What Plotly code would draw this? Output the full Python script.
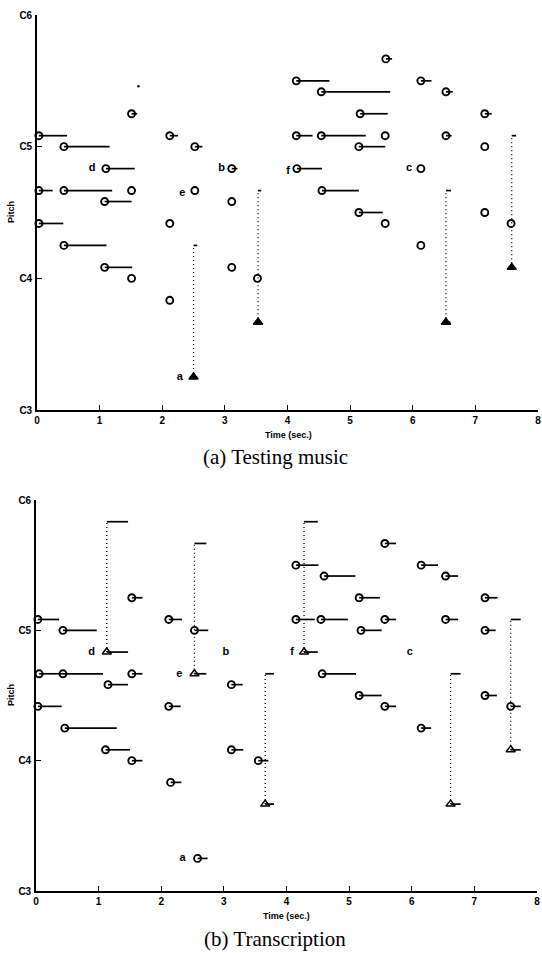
import plotly.graph_objects as go

W, H = 542, 953

# ---------------- (a) Testing music ----------------
a_start = [0.03, 0.43, 1.10, 0.03, 0.43, 1.51, 1.08, 1.51, 0.03, 0.43, 1.08, 1.51,
           2.12, 2.12, 2.12, 2.52, 2.52, 3.11, 3.11, 3.11, 3.52,
           4.14, 4.54, 5.16, 4.14, 4.54, 5.14, 4.15, 4.55, 5.14,
           5.57, 6.13, 6.53, 5.56, 6.53, 7.15, 7.15, 6.13, 7.57, 7.15, 5.56, 6.13]
a_end = [0.48, 1.16, 1.56, 0.25, 1.20, 1.51, 1.51, 1.60, 0.42, 1.11, 1.52, 1.51,
         2.25, 2.12, 2.12, 2.64, 2.52, 3.20, 3.11, 3.11, 3.52,
         4.67, 5.64, 5.60, 4.40, 5.25, 5.56, 4.55, 5.14, 5.52,
         5.67, 6.30, 6.64, 5.56, 6.62, 7.26, 7.15, 6.13, 7.57, 7.15, 5.56, 6.13]
a_pitch = [73, 72, 70, 68, 68, 68, 67, 75, 65, 63, 61, 60,
           73, 65, 58, 72, 68, 70, 67, 61, 60,
           78, 77, 75, 73, 73, 72, 70, 68, 66,
           80, 78, 77, 73, 73, 75, 72, 70, 65, 66, 65, 63]
# missed notes (triangles) and their octave-shifted detections
a_tri_x = [2.50, 3.53, 6.53, 7.58]
a_tri_end = [2.50, 3.53, 6.60, 7.58]
a_tri_pitch = [51, 56, 56, 61]
a_err_pitch = [63, 68, 68, 73]
a_err_end = [2.56, 3.58, 6.61, 7.65]
a_dot_x = [1.62]
a_dot_pitch = [77.5]
a_lab = ["a", "b", "c", "d", "e", "f"]
a_lab_x = [2.28, 2.95, 5.94, 0.88, 2.32, 4.01]
a_lab_pitch = [51, 70, 70, 70, 67.8, 69.8]

# ---------------- (b) Transcription ----------------
b_start = [0.03, 0.43, 1.53, 2.12, 2.53, 0.05, 0.43, 1.53, 1.15, 0.03, 0.46, 1.11, 1.53,
           2.12, 2.15, 2.58, 3.12, 3.12, 3.55,
           4.15, 4.60, 5.16, 4.15, 4.55, 5.19, 4.57, 5.16,
           5.57, 6.15, 6.54, 7.17, 5.57, 6.54, 7.17, 5.57, 6.15, 7.17, 7.58]
b_end = [0.37, 0.97, 1.70, 2.33, 2.75, 0.43, 1.07, 1.70, 1.47, 0.41, 1.29, 1.50, 1.70,
         2.31, 2.32, 2.74, 3.30, 3.31, 3.71,
         4.51, 5.10, 5.49, 4.45, 4.98, 5.52, 5.11, 5.52,
         5.75, 6.42, 6.74, 7.37, 5.75, 6.74, 7.34, 5.75, 6.31, 7.36, 7.74]
b_pitch = [73, 72, 75, 73, 72, 68, 68, 68, 67, 65, 63, 61, 60,
           65, 58, 51, 67, 61, 60,
           78, 77, 75, 73, 73, 72, 68, 66,
           80, 78, 77, 75, 73, 73, 72, 65, 63, 66, 65]
b_tri_x = [1.13, 2.53, 3.66, 4.28, 6.62, 7.58]
b_tri_end = [1.47, 2.72, 3.80, 4.50, 6.78, 7.74]
b_tri_pitch = [70, 68, 56, 70, 56, 61]
b_err_pitch = [82, 80, 68, 82, 68, 73]
b_lab = ["a", "b", "c", "d", "e", "f"]
b_lab_x = [2.34, 3.03, 5.97, 0.89, 2.29, 4.09]
b_lab_pitch = [51, 70, 70, 70, 68, 70]

pitch_ticks = [48, 60, 72, 84]
pitch_text = ["C3", "C4", "C5", "C6"]
time_ticks = [0, 1, 2, 3, 4, 5, 6, 7, 8]

fig = go.Figure()


def segs(xs0, xs1, ys0, ys1):
    X, Y = [], []
    for a, b, c, d in zip(xs0, xs1, ys0, ys1):
        X += [a, b, None]
        Y += [c, d, None]
    return X, Y


def add_panel(xa, ya, st, en, pi, tx, te, tp, ep, ee, filled_tri, labs, lx, ly):
    X, Y = segs(st, en, pi, pi)
    fig.add_trace(go.Scatter(x=X, y=Y, mode="lines", xaxis=xa, yaxis=ya,
                             line=dict(color="black", width=1.7), cliponaxis=False,
                             showlegend=False, hoverinfo="skip"))
    # triangles' own note lines
    X, Y = segs(tx, te, tp, tp)
    fig.add_trace(go.Scatter(x=X, y=Y, mode="lines", xaxis=xa, yaxis=ya,
                             line=dict(color="black", width=1.7), cliponaxis=False,
                             showlegend=False, hoverinfo="skip"))
    # octave-error detections on top of dotted lines
    X, Y = segs(tx, ee, ep, ep)
    fig.add_trace(go.Scatter(x=X, y=Y, mode="lines", xaxis=xa, yaxis=ya,
                             line=dict(color="black", width=1.7), cliponaxis=False,
                             showlegend=False, hoverinfo="skip"))
    # dotted connectors
    X, Y = segs(tx, tx, tp, ep)
    fig.add_trace(go.Scatter(x=X, y=Y, mode="lines", xaxis=xa, yaxis=ya,
                             line=dict(color="black", width=1.3, dash="1px,3px"), cliponaxis=False,
                             showlegend=False, hoverinfo="skip"))
    fig.add_trace(go.Scatter(x=st, y=pi, mode="markers", xaxis=xa, yaxis=ya,
                             marker=dict(symbol="circle-open", size=7, color="black",
                                         line=dict(width=1.9, color="black")),
                             cliponaxis=False, showlegend=False))
    fig.add_trace(go.Scatter(x=tx, y=tp, mode="markers", xaxis=xa, yaxis=ya,
                             marker=dict(symbol="triangle-up" if filled_tri else "triangle-up-open",
                                         size=8, color="black",
                                         line=dict(width=1.5, color="black")),
                             cliponaxis=False, showlegend=False))
    fig.add_trace(go.Scatter(x=lx, y=ly, mode="text", text=labs, xaxis=xa, yaxis=ya,
                             textfont=dict(family="Liberation Sans", size=11, color="black",
                                           weight="bold"),
                             cliponaxis=False, showlegend=False, hoverinfo="skip"))


add_panel("x", "y", a_start, a_end, a_pitch, a_tri_x, a_tri_end, a_tri_pitch,
          a_err_pitch, a_err_end, True, a_lab, a_lab_x, a_lab_pitch)
fig.add_trace(go.Scatter(x=a_dot_x, y=a_dot_pitch, mode="markers", xaxis="x", yaxis="y",
                         marker=dict(size=2.5, color="black"), showlegend=False))
add_panel("x2", "y2", b_start, b_end, b_pitch, b_tri_x, b_tri_end, b_tri_pitch,
          b_err_pitch, b_tri_end, False, b_lab, b_lab_x, b_lab_pitch)


def px_x(p):
    return p / W


def px_y(p):
    return 1 - p / H


tickfont = dict(family="Liberation Sans", size=10, color="black", weight="bold")
xcommon = dict(range=[0, 8], tickvals=time_ticks, ticks="inside", ticklen=5, tickwidth=1.2,
               tickcolor="black", showline=True, linecolor="black", linewidth=1.6,
               showgrid=False, zeroline=False, tickfont=tickfont, fixedrange=True,
               automargin=False, ticklabeloverflow="allow")
ycommon = dict(range=[48, 84], tickvals=pitch_ticks, ticktext=pitch_text, ticks="inside",
               ticklen=5, tickwidth=1.2, tickcolor="black", showline=True, linecolor="black",
               linewidth=1.6, showgrid=False, zeroline=False, tickfont=tickfont, fixedrange=True,
               automargin=False, ticklabelstandoff=1, ticklabeloverflow="allow")

fig.update_layout(
    width=W, height=H, margin=dict(l=0, r=0, t=0, b=0, autoexpand=False),
    paper_bgcolor="white", plot_bgcolor="white", showlegend=False,
    xaxis=dict(domain=[px_x(37), px_x(538)], anchor="y", **xcommon),
    yaxis=dict(domain=[px_y(410), px_y(15)], anchor="x", **ycommon),
    xaxis2=dict(domain=[px_x(36), px_x(537)], anchor="y2", **xcommon),
    yaxis2=dict(domain=[px_y(891), px_y(500)], anchor="x2", **ycommon),
)

small = dict(family="Liberation Sans", size=9, color="black", weight="bold")
cap = dict(family="Liberation Serif", size=21, color="black")
ann = [
    dict(text="Pitch", x=px_x(11), y=px_y(212), textangle=-90, font=small),
    dict(text="Time (sec.)", x=px_x(288), y=px_y(435), font=small),
    dict(text="(a) Testing music", x=px_x(275), y=px_y(457), font=cap),
    dict(text="Pitch", x=px_x(11), y=px_y(695), textangle=-90, font=small),
    dict(text="Time (sec.)", x=px_x(286), y=px_y(916), font=small),
    dict(text="(b) Transcription", x=px_x(275), y=px_y(939), font=cap),
]
for a in ann:
    fig.add_annotation(xref="paper", yref="paper", showarrow=False,
                       xanchor="center", yanchor="middle", **a)

fig.write_html("out.html", config={"displayModeBar": False},
               post_script="document.body.style.margin='0';document.body.style.overflow='hidden';")
